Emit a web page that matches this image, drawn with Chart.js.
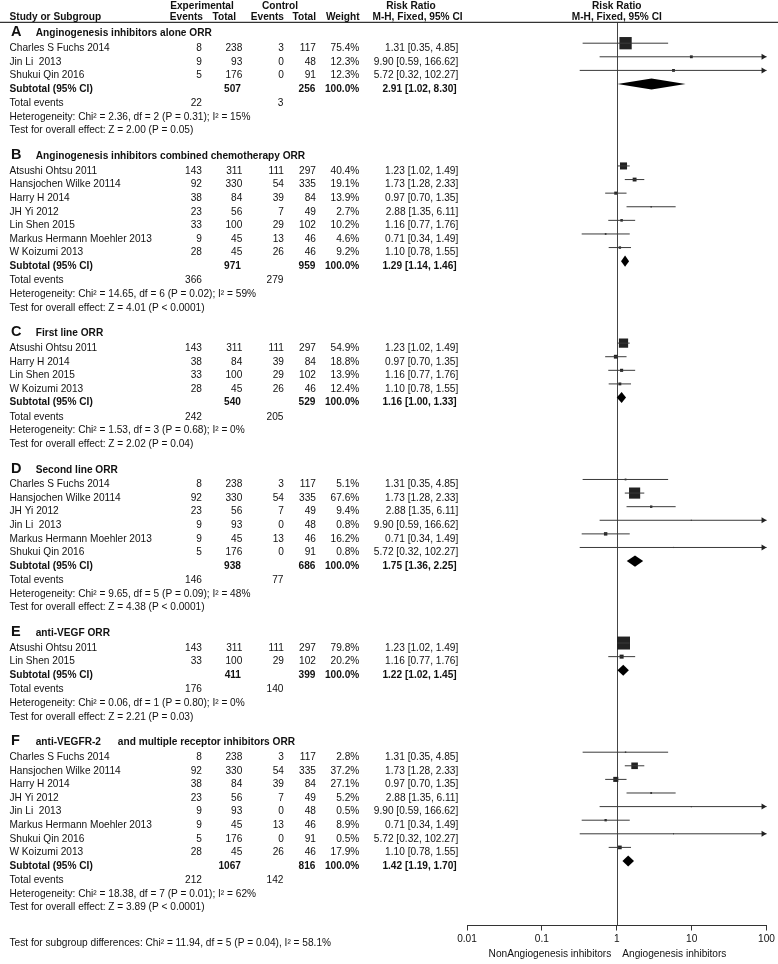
<!DOCTYPE html>
<html>
<head>
<meta charset="utf-8">
<script src="https://cdn.jsdelivr.net/npm/chart.js@4"></script>
<style>
    html, body { margin: 0; padding: 0; background: #fff; }
    #wrap { width: 778px; height: 964px; }
</style>
</head>
<body>
<div id="wrap"><canvas id="forest" width="778" height="964"></canvas></div>
<script>
// Studies (each appears in several subgroups)
const studyNames = ['Charles S Fuchs 2014', 'Jin Li  2013', 'Shukui Qin 2016', 'Atsushi Ohtsu 2011',
    'Hansjochen Wilke 20114', 'Harry H 2014', 'JH Yi 2012', 'Lin Shen 2015',
    'Markus Hermann Moehler 2013', 'W Koizumi 2013'];
const expEvents = [8, 9, 5, 143, 92, 38, 23, 33, 9, 28];
const expTotal = [238, 93, 176, 311, 330, 84, 56, 100, 45, 45];
const ctrlEvents = [3, 0, 0, 111, 54, 39, 7, 29, 13, 26];
const ctrlTotal = [117, 48, 91, 297, 335, 84, 49, 102, 46, 46];
const riskRatio = [1.31, 9.90, 5.72, 1.23, 1.73, 0.97, 2.88, 1.16, 0.71, 1.10];
const ciLow = [0.35, 0.59, 0.32, 1.02, 1.28, 0.70, 1.35, 0.77, 0.34, 0.78];
const ciHigh = [4.85, 166.62, 102.27, 1.49, 2.33, 1.35, 6.11, 1.76, 1.49, 1.55];

// Subgroups
const groupLetters = ['A', 'B', 'C', 'D', 'E', 'F'];
const groupTitles = ['Anginogenesis inhibitors alone ORR',
    'Anginogenesis inhibitors combined chemotherapy ORR',
    'First line ORR',
    'Second line ORR',
    'anti-VEGF ORR',
    'anti-VEGFR-2      and multiple receptor inhibitors ORR'];
const groupMembers = [[0, 1, 2], [3, 4, 5, 6, 7, 8, 9], [3, 5, 7, 9], [0, 4, 6, 1, 8, 2], [3, 7], [0, 4, 5, 6, 1, 8, 2, 9]];
const groupWeights = [[75.4, 12.3, 12.3], [40.4, 19.1, 13.9, 2.7, 10.2, 4.6, 9.2], [54.9, 18.8, 13.9, 12.4],
    [5.1, 67.6, 9.4, 0.8, 16.2, 0.8], [79.8, 20.2], [2.8, 37.2, 27.1, 5.2, 0.5, 8.9, 0.5, 17.9]];
const subExpTotal = [507, 971, 540, 938, 411, 1067];
const subCtrlTotal = [256, 959, 529, 686, 399, 816];
const subRR = [2.91, 1.29, 1.16, 1.75, 1.22, 1.42];
const subLow = [1.02, 1.14, 1.00, 1.36, 1.02, 1.19];
const subHigh = [8.30, 1.46, 1.33, 2.25, 1.45, 1.70];
const totalExpEvents = [22, 366, 242, 146, 176, 212];
const totalCtrlEvents = [3, 279, 205, 77, 140, 142];
const heterogeneity = ['Chi² = 2.36, df = 2 (P = 0.31); I² = 15%', 'Chi² = 14.65, df = 6 (P = 0.02); I² = 59%',
    'Chi² = 1.53, df = 3 (P = 0.68); I² = 0%', 'Chi² = 9.65, df = 5 (P = 0.09); I² = 48%',
    'Chi² = 0.06, df = 1 (P = 0.80); I² = 0%', 'Chi² = 18.38, df = 7 (P = 0.01); I² = 62%'];
const overallEffect = ['Z = 2.00 (P = 0.05)', 'Z = 4.01 (P < 0.0001)', 'Z = 2.02 (P = 0.04)',
    'Z = 4.38 (P < 0.0001)', 'Z = 2.21 (P = 0.03)', 'Z = 3.89 (P < 0.0001)'];
const subgroupTest = 'Test for subgroup differences: Chi² = 11.94, df = 5 (P = 0.04), I² = 58.1%';

// Axis
const tickValues = [0.01, 0.1, 1, 10, 100];
const tickLabels = ['0.01', '0.1', '1', '10', '100'];
const favoursLeft = 'NonAngiogenesis inhibitors';
const favoursRight = 'Angiogenesis inhibitors';

const FONT = '"Liberation Sans", Arial, sans-serif';
const FS = 10.15;
const TEXT = '#111';

// Row layout (in row units)
const rows = [];
let pos = 0;
groupLetters.forEach(function(letter, g) {
    if (g > 0) pos += 1.9;
    rows.push({ kind: 'heading', g: g, y: pos });
    pos += 1.066;
    groupMembers[g].forEach(function(s, k) {
        if (k > 0) pos += 1;
        rows.push({ kind: 'study', g: g, s: s, w: groupWeights[g][k], y: pos });
    });
    pos += 1; rows.push({ kind: 'subtotal', g: g, y: pos });
    pos += 1.06; rows.push({ kind: 'total', g: g, y: pos });
    pos += 1; rows.push({ kind: 'het', g: g, y: pos });
    pos += 1; rows.push({ kind: 'test', g: g, y: pos });
});

const studyRows = rows.filter(r => r.kind === 'study');
const axisMax = tickValues[tickValues.length - 1];

// CI lines (gaps between studies)
const ciPoints = [];
studyRows.forEach(r => {
    ciPoints.push({ x: ciLow[r.s], y: r.y });
    ciPoints.push({ x: Math.min(ciHigh[r.s], axisMax), y: r.y });
    ciPoints.push({ x: riskRatio[r.s], y: null });
});
const boxPoints = studyRows.map(r => ({ x: riskRatio[r.s], y: r.y }));
const boxRadius = studyRows.map(r => (1 + 0.15 * r.w) / Math.SQRT2);

function fmt(v) { return v.toFixed(2); }

function drawText(ctx, s, x, y, align, bold, size) {
    ctx.font = (bold ? 'bold ' : '') + (size || FS) + 'px ' + FONT;
    ctx.textAlign = align || 'left';
    ctx.fillText(s, x, y);
}

const forestPlugin = {
    id: 'forestPlot',
    beforeDatasetsDraw(chart) {
        const { ctx, chartArea, scales: { x } } = chart;
        const px = Math.round(x.getPixelForValue(1)) + 0.5;
        ctx.save();
        ctx.strokeStyle = '#444';
        ctx.lineWidth = 1;
        ctx.beginPath();
        ctx.moveTo(px, chartArea.top);
        ctx.lineTo(px, chartArea.bottom);
        ctx.stroke();
        // header rule
        ctx.strokeStyle = '#333';
        ctx.lineWidth = 1.3;
        ctx.beginPath();
        ctx.moveTo(0, 22.3);
        ctx.lineTo(778, 22.3);
        ctx.stroke();
        ctx.restore();
    },
    afterDatasetsDraw(chart) {
        const { ctx, scales: { x, y } } = chart;
        ctx.save();
        // arrowheads for CIs past the axis
        ctx.fillStyle = '#222';
        studyRows.forEach(r => {
            if (ciHigh[r.s] > axisMax) {
                const tip = x.getPixelForValue(axisMax);
                const yp = y.getPixelForValue(r.y);
                ctx.beginPath();
                ctx.moveTo(tip, yp);
                ctx.lineTo(tip - 5, yp - 3);
                ctx.lineTo(tip - 5, yp + 3);
                ctx.closePath();
                ctx.fill();
            }
        });
        // subtotal diamonds
        ctx.fillStyle = '#000';
        rows.filter(r => r.kind === 'subtotal').forEach(r => {
            const yp = y.getPixelForValue(r.y);
            const xl = x.getPixelForValue(subLow[r.g]);
            const xm = x.getPixelForValue(subRR[r.g]);
            const xr = x.getPixelForValue(subHigh[r.g]);
            ctx.beginPath();
            ctx.moveTo(xl, yp);
            ctx.lineTo(xm, yp - 5.6);
            ctx.lineTo(xr, yp);
            ctx.lineTo(xm, yp + 5.6);
            ctx.closePath();
            ctx.fill();
        });
        ctx.restore();
    },
    afterDraw(chart) {
        const { ctx, scales: { x, y } } = chart;
        ctx.save();
        ctx.fillStyle = TEXT;
        ctx.textBaseline = 'alphabetic';

        // header
        drawText(ctx, 'Experimental', 202, 9, 'center', true);
        drawText(ctx, 'Control', 280, 9, 'center', true);
        drawText(ctx, 'Risk Ratio', 411, 9, 'center', true);
        drawText(ctx, 'Risk Ratio', x.getPixelForValue(1), 9, 'center', true);
        drawText(ctx, 'Study or Subgroup', 9.5, 20.3, 'left', true);
        drawText(ctx, 'Events', 203, 20.3, 'right', true);
        drawText(ctx, 'Total', 236, 20.3, 'right', true);
        drawText(ctx, 'Events', 284, 20.3, 'right', true);
        drawText(ctx, 'Total', 316, 20.3, 'right', true);
        drawText(ctx, 'Weight', 359.5, 20.3, 'right', true);
        drawText(ctx, 'M-H, Fixed, 95% CI', 462.5, 20.3, 'right', true);
        drawText(ctx, 'M-H, Fixed, 95% CI', x.getPixelForValue(1), 20.3, 'center', true);

        rows.forEach(r => {
            const by = y.getPixelForValue(r.y) + 7.8;
            const g = r.g;
            if (r.kind === 'heading') {
                drawText(ctx, groupLetters[g], 11, by, 'left', true, 14.5);
                drawText(ctx, groupTitles[g], 35.7, by, 'left', true);
            } else if (r.kind === 'study') {
                const s = r.s;
                drawText(ctx, studyNames[s], 9.5, by);
                drawText(ctx, String(expEvents[s]), 202, by, 'right');
                drawText(ctx, String(expTotal[s]), 242.3, by, 'right');
                drawText(ctx, String(ctrlEvents[s]), 284, by, 'right');
                drawText(ctx, String(ctrlTotal[s]), 316, by, 'right');
                drawText(ctx, r.w.toFixed(1) + '%', 359.3, by, 'right');
                drawText(ctx, fmt(riskRatio[s]) + ' [' + fmt(ciLow[s]) + ', ' + fmt(ciHigh[s]) + ']', 458.3, by, 'right');
            } else if (r.kind === 'subtotal') {
                drawText(ctx, 'Subtotal (95% CI)', 9.5, by, 'left', true);
                drawText(ctx, String(subExpTotal[g]), 241, by, 'right', true);
                drawText(ctx, String(subCtrlTotal[g]), 315.5, by, 'right', true);
                drawText(ctx, '100.0%', 359.3, by, 'right', true);
                drawText(ctx, fmt(subRR[g]) + ' [' + fmt(subLow[g]) + ', ' + fmt(subHigh[g]) + ']', 456.7, by, 'right', true);
            } else if (r.kind === 'total') {
                drawText(ctx, 'Total events', 9.5, by);
                drawText(ctx, String(totalExpEvents[g]), 202, by, 'right');
                drawText(ctx, String(totalCtrlEvents[g]), 283.5, by, 'right');
            } else if (r.kind === 'het') {
                drawText(ctx, 'Heterogeneity: ' + heterogeneity[g], 9.5, by);
            } else if (r.kind === 'test') {
                drawText(ctx, 'Test for overall effect: ' + overallEffect[g], 9.5, by);
            }
        });

        drawText(ctx, subgroupTest, 9.5, 945.5);
        const one = x.getPixelForValue(1);
        drawText(ctx, favoursLeft, one - 5.5, 956.5, 'right');
        drawText(ctx, favoursRight, one + 5.5, 956.5, 'left');
        ctx.restore();
    }
};

new Chart(document.getElementById('forest'), {
    type: 'scatter',
    data: {
        datasets: [{
            type: 'line',
            data: ciPoints,
            borderColor: '#3a3a3a',
            borderWidth: 1,
            pointRadius: 0,
            spanGaps: false,
            fill: false,
            clip: false
        }, {
            type: 'scatter',
            data: boxPoints,
            pointStyle: 'rect',
            pointRadius: boxRadius,
            backgroundColor: '#222',
            borderWidth: 0,
            clip: false
        }]
    },
    options: {
        responsive: false,
        animation: false,
        events: [],
        layout: { padding: { left: 467, right: 11, top: 22.3, bottom: 15.3 } },
        plugins: {
            legend: { display: false },
            tooltip: { enabled: false }
        },
        scales: {
            x: {
                type: 'logarithmic',
                min: tickValues[0],
                max: axisMax,
                afterBuildTicks: function(axis) {
                    axis.ticks = tickValues.map(v => ({ value: v }));
                },
                ticks: {
                    autoSkip: false,
                    maxRotation: 0,
                    padding: 3,
                    color: TEXT,
                    font: { family: FONT, size: FS },
                    callback: function(value, index) { return tickLabels[index]; }
                },
                grid: { display: true, drawOnChartArea: false, drawTicks: true, tickLength: 5, color: '#333' },
                border: { display: true, color: '#333', width: 1 }
            },
            y: {
                type: 'linear',
                reverse: true,
                min: -0.47,
                max: 65.94,
                display: false
            }
        }
    },
    plugins: [forestPlugin]
});
</script>
</body>
</html>
